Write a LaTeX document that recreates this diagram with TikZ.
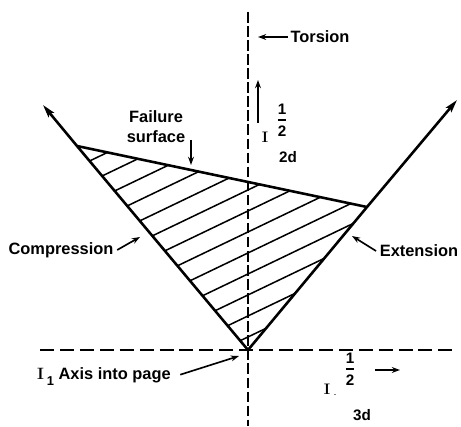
\documentclass[tikz,border=0pt]{standalone}
\usepackage{amsmath}
\usepackage{fontspec}
\setsansfont{Liberation Sans}
\usetikzlibrary{arrows.meta,positioning}

\begin{document}
\begin{tikzpicture}[x=0.03cm, y=-0.03cm, >={Stealth[length=7pt,width=5pt]},
  lbl/.style={font=\sffamily\bfseries\fontsize{14}{17}\selectfont, inner sep=0pt},
  frc/.style={font=\sffamily\bfseries\fontsize{13}{15}\selectfont, inner sep=0pt},
  axis/.style={line width=1.4pt, dash pattern=on 12pt off 5pt},
  vaxis/.style={line width=1.4pt, dash pattern=on 9pt off 3pt},
  edge/.style={line width=2.2pt},
  hatch/.style={line width=1.3pt},
  pointer/.style={->, line width=1.4pt}]
  \useasboundingbox (0,0) rectangle (461,426);

  % cone geometry
  \coordinate (O) at (248,350);
  \coordinate (L) at (77,146);
  \coordinate (R) at (367,207);
  \coordinate (TL) at (43,105);
  \coordinate (TR) at (457,100);

  % axes
  \coordinate (hL) at (40,350);
  \coordinate (hR) at (457,350);
  \coordinate (vT) at (248,12);
  \coordinate (vB) at (248,426);
  \draw[axis] (hL) -- (hR);
  \draw[vaxis] (vT) -- (vB);

  % hatching of the elastic region
  \begin{scope}
    \clip (L) -- (R) -- (O) -- cycle;
    \foreach \c in {204,225,...,456}
      \draw[hatch] (0,\c) -- (461,{\c-221.3});
  \end{scope}

  % meridians and failure surface
  \draw[edge, -{Stealth[length=11pt,width=6pt,inset=2pt]}] (O) -- (L) -- (TL);
  \draw[edge, -{Stealth[length=11pt,width=6pt,inset=2pt]}] (O) -- (R) -- (TR);
  \draw[edge] (L) -- (R);

  % labels
  \node[lbl] (torsion) at (320,37) {Torsion};
  \coordinate (torsionTip) at (258,37);
  \draw[pointer] ([xshift=-2pt]torsion.west) -- (torsionTip);

  \coordinate (upTail) at (258,123);
  \coordinate (upTip) at (258,80);
  \draw[pointer] (upTail) -- (upTip);
  \node[frc] (Iup) at (265,137) {\rmfamily I};
  \node[frc] (halfUp) at (282,120) {$\genfrac{}{}{1.3pt}{0}{\mbox{1}}{\mbox{2}}$};
  \node[frc] (twoD) at (288,157) {2d};

  \node[lbl, align=center] (failure) at (156,127) {Failure\\surface};
  \coordinate (failTail) at (191,140);
  \coordinate (failTip) at (191,165);
  \draw[pointer] (failTail) -- (failTip);

  \node[lbl] (compression) at (61,250) {Compression};
  \coordinate (compTip) at (140,237);
  \draw[pointer] ([xshift=3pt]compression.east) -- (compTip);

  \node[lbl] (extension) at (419,251) {Extension};
  \coordinate (extTip) at (352,236);
  \draw[pointer] ([xshift=-3pt]extension.west) -- (extTip);

  \node[lbl, anchor=west] (axisLbl) at (37,377) {{\rmfamily I}\,\raisebox{-0.7ex}{\fontsize{11}{11}\selectfont 1} Axis into page};
  \coordinate (axisTip) at (239,356);
  \draw[pointer] ([xshift=8pt,yshift=2pt]axisLbl.east) -- (axisTip);

  \node[frc] (Ibot) at (327,389) {\rmfamily I};
  \node[frc] (dash) at (335,396) {\tiny -};
  \node[frc] (halfBot) at (350,369) {$\genfrac{}{}{1.3pt}{0}{\mbox{1}}{\mbox{2}}$};
  \node[frc] (threeD) at (362,415) {3d};
  \coordinate (botTail) at (375,370);
  \coordinate (botTip) at (400,370);
  \draw[pointer] (botTail) -- (botTip);
\end{tikzpicture}
\end{document}
